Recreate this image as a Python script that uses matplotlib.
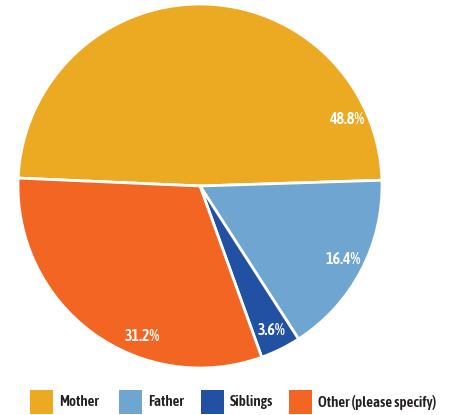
import numpy as np
import matplotlib.pyplot as plt
from matplotlib.patches import Rectangle

categories = ['Mother', 'Father', 'Siblings', 'Other (please specify)']
shares = [48.8, 16.4, 3.6, 31.2]
colors = ['#ECA922', '#6FA5D1', '#2250A3', '#F26522']

# where each percentage sits around the pie (degrees) and legend x slots (px)
label_angles = [24.5, -27.0, -63.6, -110.8]
legend_x = [30, 119, 201, 289]

plt.rcParams['font.family'] = ['Asap Condensed', 'DejaVu Sans']

W, H = 449, 415
fig = plt.figure(figsize=(W / 100, H / 100), dpi=100)

cx, cy, r = 200, 186, 182
ax = fig.add_axes([(cx - r) / W, (H - cy - r) / H, 2 * r / W, 2 * r / H])
ax.pie(shares, colors=colors, startangle=177.5, counterclock=False,
       wedgeprops=dict(edgecolor='white', linewidth=2))
ax.set_xlim(-1, 1)
ax.set_ylim(-1, 1)
ax.set_aspect('auto')

for val, ang in zip(shares, label_angles):
    t = np.deg2rad(ang)
    ax.text(0.885 * np.cos(t), 0.885 * np.sin(t), f'{val:.1f}%',
            ha='center', va='center', color='white', fontsize=11.5,
            fontweight=600)

# legend row along the bottom
for name, col, x in zip(categories, colors, legend_x):
    fig.patches.append(Rectangle((x / W, (H - 414) / H), 23 / W, 24 / H,
                                 transform=fig.transFigure, facecolor=col,
                                 edgecolor='none'))
    fig.text((x + 29) / W, (H - 402) / H, name, ha='left', va='center',
             fontsize=10.8, fontweight=600, color='#231F20')

fig.savefig('out.png', dpi=100)
